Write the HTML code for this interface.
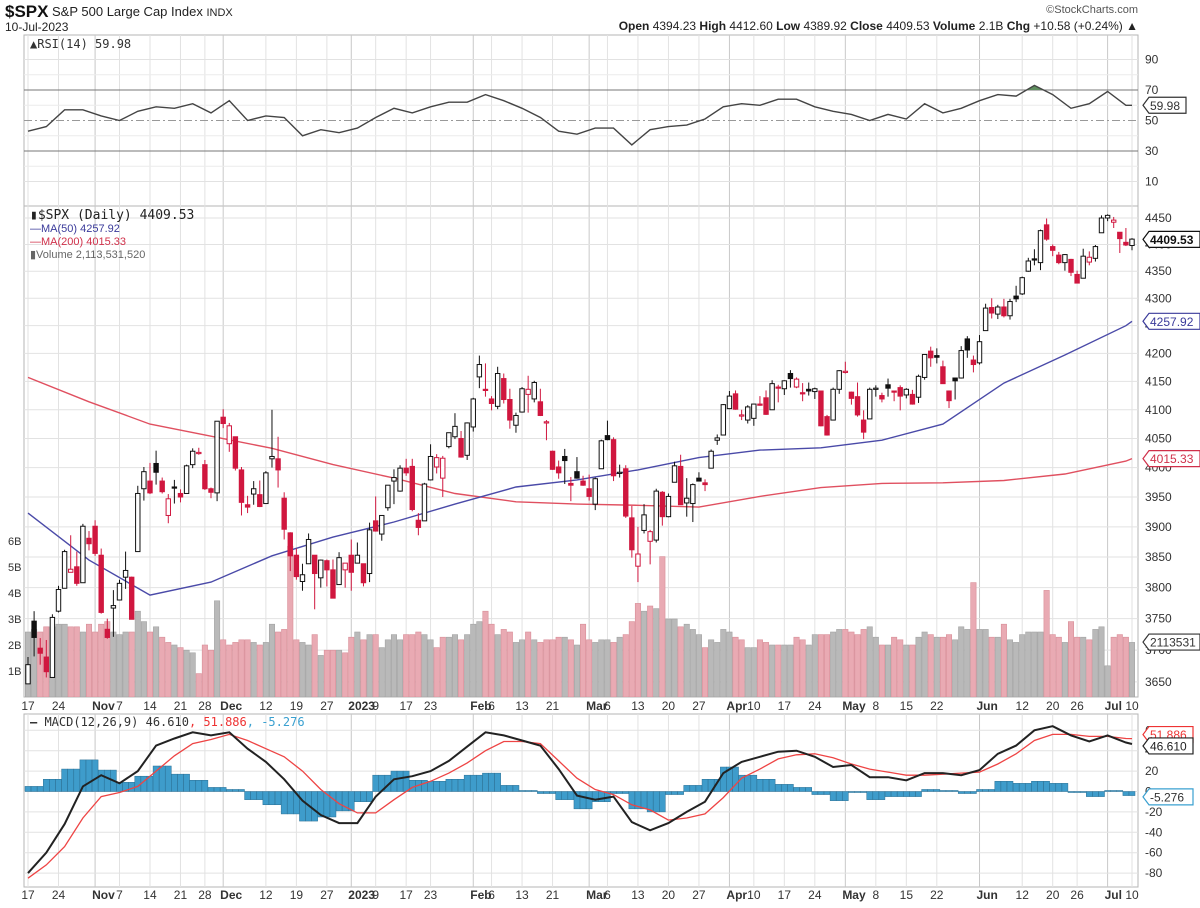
<!DOCTYPE html>
<html><head><meta charset="utf-8"><style>
html,body{margin:0;padding:0;background:#fff;}
svg{display:block;font-family:"Liberation Sans",sans-serif;}
</style></head><body>
<svg id="chart" width="1200" height="908" viewBox="0 0 1200 908" xmlns="http://www.w3.org/2000/svg">
<text x="5" y="17" font-size="17" font-weight="bold" fill="#111">$SPX</text>
<text x="52" y="16" font-size="13" fill="#222">S&amp;P 500 Large Cap Index <tspan font-size="11">INDX</tspan></text>
<text x="5" y="31" font-size="12" fill="#222">10-Jul-2023</text>
<text x="1138" y="13" font-size="11" fill="#555" text-anchor="end">©StockCharts.com</text>
<text x="1138" y="30" font-size="12" fill="#222" text-anchor="end"><tspan font-weight="bold">Open</tspan> 4394.23  <tspan font-weight="bold">High</tspan> 4412.60  <tspan font-weight="bold">Low</tspan> 4389.92  <tspan font-weight="bold">Close</tspan> 4409.53  <tspan font-weight="bold">Volume</tspan> 2.1B  <tspan font-weight="bold">Chg</tspan> +10.58 (+0.24%) ▲</text>
<g id="layer"></g>
</svg>
<script>
// ---- data ----
const closes=[3677,3720,3695,3666,3752,3797,3859,3830,3807,3901,3872,
3856,3760,3720,3771,3807,3828,3749,3956,3993,3957,3992,3959,3947,3965,3950,4003,4028,4026,3964,3958,4080,
4076,4072,3999,3941,3933,3964,3934,3991,4019,3996,3896,3852,3818,3821,3879,3823,3845,3829,3783,3849,3840,
3825,3853,3808,3895,3893,3919,3970,3983,3999,3991,3929,3899,3972,4019,4017,4016,4060,4071,4018,4077,
4119,4180,4136,4111,4164,4118,4082,4090,4137,4136,4148,4090,4079,3997,3991,4012,3970,3982,3970,
3951,3981,4046,4048,3986,3992,3918,3862,3855,3920,3892,3960,3917,3951,4003,3937,3948,3971,3977,3971,4028,4051,4109,
4124,4101,4091,4105,4110,4109,4092,4146,4138,4151,4155,4154,4130,4133,4137,4072,4056,4136,4169,
4168,4120,4091,4061,4136,4138,4119,4138,4131,4124,4136,4110,4159,4198,4192,4193,4146,4116,4151,4205,4206,4180,
4221,4282,4273,4284,4268,4294,4299,4338,4369,4373,4426,4410,4389,4366,4381,4348,4328,4378,4376,4396,4450,
4455,4446,4411,4399,4410];
const opens=[3647,3746,3703,3689,3657,3762,3799,3825,3834,3808,3881,
3901,3853,3733,3767,3780,3817,3817,3859,3964,3977,4007,3977,3919,3967,3956,3956,4005,4024,4005,3964,3957,
4087,4041,4053,3996,3937,3955,3954,3939,4015,4015,3948,3890,3853,3810,3839,3853,3816,3844,3829,3805,3829,
3853,3840,3839,3823,3910,3888,3932,3977,3960,3999,4002,3911,3910,3979,4001,3982,4036,4053,4050,4021,
4070,4158,4136,4119,4106,4155,4118,4073,4096,4127,4119,4114,4077,4028,4001,4019,3973,3993,3977,
3964,3938,3998,4055,4048,3990,3998,3915,3835,3894,3876,3878,3958,3917,3975,4002,3940,3939,3982,3974,3999,4047,4056,
4102,4128,4090,4082,4085,4110,4121,4100,4140,4137,4164,4140,4130,4136,4132,4133,4088,4082,4136,
4167,4131,4123,4082,4084,4136,4125,4144,4133,4139,4126,4127,4122,4157,4204,4196,4176,4133,4156,4156,4226,4188,
4183,4241,4283,4271,4284,4268,4304,4308,4350,4373,4366,4437,4396,4380,4366,4372,4344,4337,4367,4374,4422,
4450,4442,4423,4404,4398];
const highs=[3689,3762,3719,3716,3757,3803,3862,3886,3859,3905,3893,
3911,3864,3750,3796,3813,3859,3818,3969,4001,4008,4029,3983,3955,3979,3963,4005,4033,4034,4013,3966,4080,
4101,4077,4053,4001,3952,3977,3978,3994,4100,4053,3958,3891,3864,3839,3889,3853,3846,3846,3846,3858,3839,
3879,3874,3839,3907,3951,3919,3970,3997,4004,4015,4015,3923,3974,4040,4023,4020,4060,4094,4063,4078,
4121,4196,4182,4124,4176,4164,4137,4095,4140,4160,4151,4137,4082,4029,4012,4032,3984,4018,3986,
3988,3983,4048,4081,4052,4005,4004,3935,3900,3938,3895,3964,3960,3956,4010,4022,3982,3973,3992,3980,4031,4057,4110,
4133,4134,4100,4108,4110,4124,4134,4152,4144,4152,4170,4157,4147,4148,4139,4133,4091,4139,4170,
4185,4132,4148,4099,4139,4143,4130,4155,4132,4143,4138,4135,4162,4198,4212,4209,4187,4134,4156,4213,4231,4196,
4233,4290,4300,4288,4299,4299,4323,4340,4375,4391,4428,4449,4400,4386,4382,4373,4351,4392,4387,4399,4455,
4457,4452,4423,4431,4412];
const lows=[3647,3690,3677,3657,3657,3760,3799,3830,3803,3808,3861,
3852,3758,3718,3721,3780,3798,3749,3859,3944,3955,3971,3956,3906,3939,3941,3956,3999,4022,3962,3948,3943,
4068,4027,3995,3919,3923,3937,3933,3939,4000,3966,3879,3827,3813,3795,3839,3765,3800,3802,3783,3805,3800,
3795,3840,3802,3809,3892,3877,3927,3938,3959,3986,3926,3886,3910,3978,3990,3950,4033,4049,4017,4013,
4062,4138,4123,4099,4101,4111,4067,4060,4095,4095,4113,4089,4047,3996,3981,3972,3943,3981,3969,
3944,3928,3998,4047,3977,3983,3915,3849,3809,3889,3838,3874,3902,3916,3975,3937,3917,3908,3978,3960,3999,4039,4056,
4101,4100,4082,4076,4072,4107,4091,4100,4113,4126,4139,4138,4115,4125,4119,4071,4055,4082,4128,
4164,4109,4088,4049,4084,4123,4113,4123,4115,4099,4120,4109,4112,4153,4176,4182,4146,4103,4118,4155,4192,4166,
4180,4241,4263,4262,4265,4261,4293,4306,4349,4361,4352,4407,4378,4363,4351,4341,4328,4337,4361,4368,4422,
4444,4431,4384,4397,4389];
const volumes=[2.5,2.6,2.5,2.7,2.7,2.8,2.8,2.7,2.7,2.5,2.8,
2.5,2.8,2.9,2.5,2.4,2.5,2.5,3.3,2.9,2.5,2.7,2.3,2.1,2.0,1.9,1.8,1.7,0.9,2.0,1.8,3.7,
2.2,2.0,2.1,2.2,2.2,2.1,2.0,2.1,2.8,2.5,2.6,5.8,2.2,2.1,2.0,2.4,1.6,1.8,1.8,1.8,1.7,
2.3,2.5,2.2,2.4,2.4,1.9,2.2,2.4,2.2,2.4,2.4,2.5,2.4,2.2,1.9,2.3,2.3,2.4,2.2,2.4,
2.8,2.9,3.3,2.8,2.4,2.6,2.5,2.1,2.2,2.5,2.2,2.1,2.2,2.2,2.3,2.3,2.2,2.0,2.8,
2.2,2.1,2.2,2.2,2.1,2.3,2.4,2.9,3.6,3.3,3.5,3.4,5.4,3.0,3.0,2.7,2.8,2.6,2.4,1.9,2.2,2.1,2.6,
2.5,2.3,2.2,1.9,1.9,2.2,2.1,2.0,2.0,2.0,2.0,2.3,2.2,2.0,2.4,2.4,2.4,2.5,2.6,
2.6,2.5,2.4,2.6,2.7,2.3,2.0,2.0,2.3,2.2,2.0,2.0,2.3,2.5,2.4,2.3,2.3,2.4,2.2,2.7,2.6,4.4,
2.6,2.6,2.3,2.3,2.8,2.2,2.1,2.4,2.5,2.5,2.5,4.1,2.4,2.3,2.1,2.9,2.3,2.3,2.2,2.6,2.7,
1.2,2.3,2.4,2.3,2.1];
// moving averages sampled every 10 trading days
const ma50=[3923,3845,3788,3809,3852,3883,3908,3938,3967,3979,3996,4017,4030,4034,4047,4075,4147,4197,4250];
const ma200=[4157,4114,4075,4054,4033,4005,3982,3956,3942,3938,3936,3933,3951,3966,3973,3974,3978,3989,4011];
const ma50Last=4257.92, ma200Last=4015.33;
// indicators sampled every 3 trading days
const rsi=[43,46,57,57,53,50,56,59,58,61,55,63,50,53,52,40,44,42,45,52,58,55,59,62,62,67,63,58,52,43,41,45,45,34,44,46,47,51,59,61,60,64,64,59,56,54,50,54,51,61,55,58,63,67,66,73,67,58,61,69,60];
const rsiLast=59.98;
const macd=[-80,-60,-32,5,16,8,20,45,52,58,55,58,42,29,12,-9,-23,-31,-31,-5,12,15,20,30,44,58,55,50,45,22,-4,-8,-5,-30,-38,-31,-20,-10,18,29,34,39,40,34,24,26,14,14,11,18,18,16,21,37,45,60,64,55,49,55,48];
const signal=[-85,-72,-54,-26,-5,-1,5,20,35,47,51,56,50,42,34,20,2,-12,-21,-21,-8,4,10,18,28,40,49,49,47,30,13,2,-3,-13,-18,-28,-26,-22,-6,13,22,32,36,37,33,27,22,19,16,16,17,18,19,27,37,50,56,56,54,54,52];
const macdLast=46.610, signalLast=51.886, histLast=-5.276;
const xLabels=["17","24","Nov","7","14","21","28","Dec","12","19","27","2023","9","17","23","Feb","6","13","21","Mar","6","13","20","27","Apr","10","17","24","May","8","15","22","Jun","12","20","26","Jul","10"];
const xLabelIdx=[0,5,11,15,20,25,29,32,39,44,49,53,57,62,66,73,76,81,86,92,95,100,105,110,115,119,124,129,134,139,144,149,156,163,168,172,177,181];
const priceTicks=[4450,4400,4350,4300,4250,4200,4150,4100,4050,4000,3950,3900,3850,3800,3750,3700,3650];
const rsiTicks=[90,70,50,30,10];
const volTicks=[1,2,3,4,5,6];
const macdTicks=[60,40,20,0,-20,-40,-60,-80];

// ---- scales ----
const NS="http://www.w3.org/2000/svg";
const L=24, R=1138;
const xi=i=>28+i*(1104/181);
const yP=p=>218+2341*Math.log(4450/p);
const yR=v=>90+(70-v)*1.525;
const yM=v=>791.5-v*1.02;
const yV=b=>697-b*26;
const layer=document.getElementById('layer');
function mk(tag,attrs,parent){const e=document.createElementNS(NS,tag);for(const k in attrs)e.setAttribute(k,attrs[k]);(parent||layer).appendChild(e);return e;}
function txt(x,y,s,attrs,parent){const e=mk('text',Object.assign({x:x,y:y,'font-size':12,fill:'#333'},attrs||{}),parent);e.textContent=s;return e;}

// panels
const panels=[[35,206,'rsi-panel'],[206,697,'price-panel'],[714,887,'macd-panel']];
panels.forEach(p=>{const r=mk('rect',{x:L,y:p[0],width:R-L,height:p[1]-p[0],fill:'#fff',stroke:'#b5b5b5','stroke-width':1});

});

// vertical grid
const monthSet=new Set(["Nov","Dec","2023","Feb","Mar","Apr","May","Jun","Jul"]);
xLabelIdx.forEach((i,k)=>{const x=xi(i);const major=monthSet.has(xLabels[k]);
panels.forEach(p=>{const g=mk('line',{x1:x,x2:x,y1:p[0],y2:p[1],stroke:major?'#c8c8c8':'#e2e2e2','stroke-width':1});

});});

// RSI panel
[80,60,40,20].forEach(v=>{const g=mk('line',{x1:L,x2:R,y1:yR(v),y2:yR(v),stroke:'#ececec'});

});
rsiTicks.forEach(v=>{const y=yR(v);const strong=(v===70||v===30);
const g=mk('line',{x1:L,x2:R,y1:y,y2:y,stroke:strong?'#777':(v===50?'#999':'#e2e2e2'),'stroke-width':1,'stroke-dasharray':v===50?'8,3,2,3':'none'});


const t=txt(R+7,y+4,String(v));

});
let rsiPts=rsi.map((v,k)=>[xi(Math.min(k*3,181)),yR(v)]);rsiPts.push([xi(181),yR(rsiLast)]);
const defs=mk('defs',{});
const cp=mk('clipPath',{id:'ob'},defs);mk('rect',{x:L,y:35,width:R-L,height:yR(70)-35},cp);
const cpP=mk('clipPath',{id:'pp'},defs);mk('rect',{x:L,y:206,width:R-L,height:491},cpP);
const obArea=mk('path',{d:'M'+rsiPts[0][0]+','+yR(70)+' '+rsiPts.map(p=>'L'+p[0].toFixed(1)+','+p[1].toFixed(1)).join(' ')+' L'+rsiPts[rsiPts.length-1][0]+','+yR(70)+'Z',fill:'#5f8f5f','clip-path':'url(#ob)'});


const rsiLine=mk('polyline',{points:rsiPts.map(p=>p[0].toFixed(1)+','+p[1].toFixed(1)).join(' '),fill:'none',stroke:'#444','stroke-width':1.4});


const rsiLeg=txt(30,48,'▲RSI(14) 59.98',{'font-size':12,fill:'#333','font-family':'"DejaVu Sans Mono","Liberation Mono",monospace'});



// price panel gridlines + ticks
priceTicks.forEach(p=>{const y=yP(p);const g=mk('line',{x1:L,x2:R,y1:y,y2:y,stroke:'#e2e2e2'});


const t=txt(R+7,y+4,String(p));

});
volTicks.forEach(b=>{const t=txt(8,yV(b)+4,b+'B',{'font-size':11});

});

const pg=mk('g',{'clip-path':'url(#pp)'});


// volume bars
volumes.forEach((v,i)=>{const down=i>0&&closes[i]<closes[i-1];const y=yV(v);
const b=mk('rect',{x:xi(i)-2.7,y:y,width:5.4,height:697-y,fill:down?'#e9aab3':'#b9b9b9',stroke:down?'#d88e98':'#a3a3a3','stroke-width':0.6},pg);

});
// moving averages
function maPts(arr,last){const pts=arr.map((v,j)=>xi(j*10).toFixed(1)+','+yP(v).toFixed(1));pts.push(xi(181).toFixed(1)+','+yP(last).toFixed(1));return pts.join(' ');}
const m2=mk('polyline',{points:maPts(ma200,ma200Last),fill:'none',stroke:'#e05060','stroke-width':1.4},pg);


const m1=mk('polyline',{points:maPts(ma50,ma50Last),fill:'none',stroke:'#4a4aa8','stroke-width':1.4},pg);


// candles
closes.forEach((c,i)=>{const o=opens[i],h=highs[i],l=lows[i];const prev=i>0?closes[i-1]:o;
const col=c>=prev?'#111':'#d0173f';const x=xi(i);
const w=mk('line',{x1:x,x2:x,y1:yP(h),y2:yP(l),stroke:col,'stroke-width':1},pg);


const top=yP(Math.max(o,c)),bot=yP(Math.min(o,c));
const b=mk('rect',{x:x-2.2,y:top,width:4.4,height:Math.max(1.2,bot-top),fill:c>o?'#fff':col,stroke:col,'stroke-width':1},pg);

});
// price legend
const pl=[['▮$SPX (Daily) 4409.53','#222'],['—MA(50) 4257.92','#3a3a9a'],['—MA(200) 4015.33','#d0304a'],['▮Volume 2,113,531,520','#666']];
pl.forEach((e,k)=>{const t=txt(30,219+k*13,e[0],{'font-size':k===0?13:11,fill:e[1],'font-family':k===0?'"DejaVu Sans Mono","Liberation Mono",monospace':'"Liberation Sans",sans-serif'});

});

// MACD panel
macdTicks.forEach(v=>{const y=yM(v);const g=mk('line',{x1:L,x2:R,y1:y,y2:y,stroke:'#e2e2e2'});


const t=txt(R+7,y+4,String(v));

});
macd.forEach((m,k)=>{const h=m-signal[k];for(let d=0;d<3;d++){const i=k*3+d;if(i>181)break;
const y0=yM(0),y1=yM(h);
const b=mk('rect',{x:xi(i)-3,y:Math.min(y0,y1),width:6,height:Math.abs(y1-y0),fill:'#3e9ccb',stroke:'#2a6f93','stroke-width':0.5});

}});
function indPts(arr,last){const pts=arr.map((v,k)=>xi(Math.min(k*3,181)).toFixed(1)+','+yM(v).toFixed(1));pts.push(xi(181).toFixed(1)+','+yM(last).toFixed(1));return pts.join(' ');}
const sl=mk('polyline',{points:indPts(signal,signalLast),fill:'none',stroke:'#ee4444','stroke-width':1.3});


const ml=mk('polyline',{points:indPts(macd,macdLast),fill:'none',stroke:'#222','stroke-width':2});


const mlg=txt(30,726,'',{'font-size':12,'font-family':'"DejaVu Sans Mono","Liberation Mono",monospace',fill:'#333'});
const t1=mk('tspan',{'font-weight':'bold'},mlg);t1.textContent='— ';
const t2=mk('tspan',{},mlg);t2.textContent='MACD(12,26,9) 46.610';
const t3=mk('tspan',{fill:'#e33'},mlg);t3.textContent=', 51.886';
const t4=mk('tspan',{fill:'#3aa0d0'},mlg);t4.textContent=', -5.276';



// x-axis labels
[[710,'price-x-label'],[899,'macd-x-label']].forEach(a=>{xLabelIdx.forEach((i,k)=>{const s=xLabels[k];const bold=monthSet.has(s);
const t=txt(xi(i),a[0],s,{'font-size':12,'font-weight':bold?'bold':'normal','text-anchor':bold?'start':'middle',fill:'#333'});
if(bold)t.setAttribute('x',xi(i)-3);

});});

// value tags
function tag(y,s,stroke,col,bold,name){const w=s.length*7+8;const x=R+5;
const p=mk('polygon',{points:`${x},${y} ${x+6},${y-8} ${x+w},${y-8} ${x+w},${y+8} ${x+6},${y+8}`,fill:'#fff',stroke:stroke,'stroke-width':1.2});


const t=txt(x+7,y+4.5,s,{'font-size':12,'font-weight':bold?'bold':'normal',fill:col});

}
tag(yR(rsiLast),'59.98','#333','#333',false,'rsi-value-tag');
tag(yP(ma50Last),'4257.92','#3a3a9a','#3a3a9a',false,'ma50-value-tag');
tag(yP(ma200Last),'4015.33','#d0304a','#d0304a',false,'ma200-value-tag');
tag(yV(2.1135),'2113531','#333','#333',false,'volume-value-tag');
tag(yP(4409.53),'4409.53','#111','#111',true,'close-value-tag');
tag(yM(signalLast)-4,'51.886','#e33','#e33',false,'signal-value-tag');
tag(yM(macdLast)+2,'46.610','#222','#222',false,'macd-value-tag');
tag(yM(histLast),'-5.276','#3aa0d0','#333',false,'histogram-value-tag');
</script>
</body></html>
